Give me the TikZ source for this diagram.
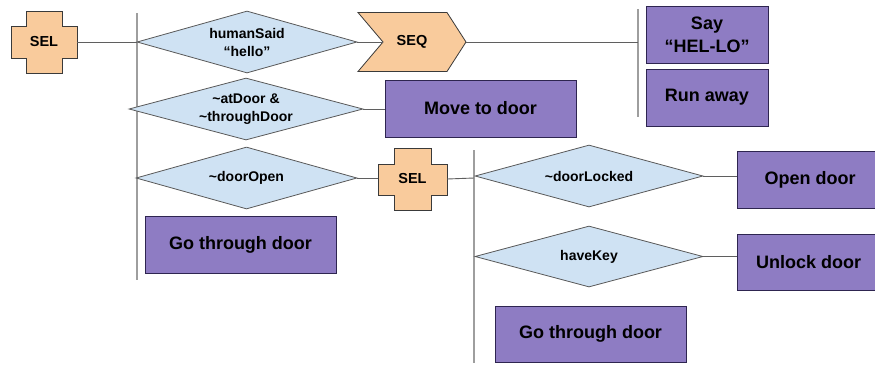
\documentclass[tikz,border=0pt]{standalone}
\usepackage{fontspec}
\setmainfont{Liberation Sans}
\usetikzlibrary{shapes.geometric}
\definecolor{condfill}{HTML}{CFE2F3}
\definecolor{ctlfill}{HTML}{F9CB9C}
\definecolor{actfill}{HTML}{8E7CC3}
\definecolor{edgegray}{HTML}{595959}
\definecolor{boxedge}{HTML}{2E2550}
\definecolor{ctledge}{HTML}{3A3A3A}
\definecolor{conngray}{HTML}{5F5F5F}
\definecolor{busgray}{HTML}{9E9E9E}
\begin{document}
\begin{tikzpicture}[x=1pt,y=-1pt,
  cond/.style={diamond, aspect=3.6, draw=edgegray, fill=condfill, line width=0.8pt, inner sep=0pt,
    font=\fontsize{14}{18}\selectfont\bfseries, align=center},
  act/.style={rectangle, draw=boxedge, fill=actfill, line width=0.8pt, inner sep=0pt,
    font=\fontsize{18}{23}\selectfont\bfseries, align=center},
  ctl/.style={rectangle, inner sep=0pt, font=\fontsize{14.5}{17}\selectfont\bfseries},
  ctlshape/.style={draw=ctledge, fill=ctlfill, line width=0.8pt, line join=miter},
  conn/.style={draw=conngray, line width=0.9pt},
  bus/.style={draw=busgray, line width=1.5pt}]
\clip (0,0) rectangle (875,365);
\fill[white] (0,0) rectangle (875,365);

% control shapes
\path[ctlshape] (26,11) -- (62,11) -- (62,26) -- (77,26) -- (77,58) -- (62,58) -- (62,73)
  -- (26,73) -- (26,58) -- (11,58) -- (11,26) -- (26,26) -- cycle;
\path[ctlshape] (394,148) -- (431,148) -- (431,164) -- (447,164) -- (447,195) -- (431,195)
  -- (431,210) -- (394,210) -- (394,195) -- (378,195) -- (378,164) -- (394,164) -- cycle;
\path[ctlshape] (358,12.5) -- (447,12.5) -- (466,42) -- (447,71.5) -- (358,71.5) -- (383,42) -- cycle;

\node[ctl, minimum width=66, minimum height=62] (sel1) at (44,42) {SEL};
\node[ctl, minimum width=69, minimum height=62] (sel2) at (412.5,179) {SEL};
\node[ctl, minimum width=108, minimum height=59] (seq) at (412,42) {SEQ};
\coordinate (seqin) at (383,42);

% bus coordinates
\coordinate (b1top) at (137,13);
\coordinate (b1bot) at (137,280);
\coordinate (b2top) at (638,9);
\coordinate (b2bot) at (638,117);
\coordinate (b2mid) at (638,42);
\coordinate (b3top) at (474,150);
\coordinate (b3bot) at (474,363);
\coordinate (b3mid) at (474,178);

\draw[bus] (b1top) -- (b1bot);
\draw[bus] (b2top) -- (b2bot);
\draw[bus] (b3top) -- (b3bot);

% conditions
\node[cond, minimum width=220, minimum height=62] (d1) at (247,42) {humanSaid\\“hello”};
\node[cond, minimum width=234, minimum height=62] (d2) at (246,109) {\textasciitilde atDoor \&\\\textasciitilde throughDoor};
\node[cond, minimum width=221, minimum height=62] (d3) at (246.5,178) {\textasciitilde doorOpen};
\node[cond, minimum width=228, minimum height=62] (d4) at (589,176) {\textasciitilde doorLocked};
\node[cond, minimum width=228, minimum height=61] (d5) at (589,256.5) {haveKey};

% actions
\node[act, minimum width=122, minimum height=57] (say) at (707,34.5) {Say\\“HEL-LO”};
\node[act, minimum width=122, minimum height=57] (run) at (707,97.5) {Run away};
\node[act, minimum width=191, minimum height=57] (move) at (480.5,108.5) {Move to door};
\node[act, minimum width=191, minimum height=57] (go1) at (240.5,244.5) {Go through door};
\node[act, minimum width=146, minimum height=57] (open) at (810,179.5) {Open door};
\node[act, minimum width=143, minimum height=56] (unlock) at (808.5,262) {Unlock door};
\node[act, minimum width=191, minimum height=56] (go2) at (590.5,334) {Go through door};

% connectors
\draw[conn] (sel1.east) -- (d1.west);
\draw[conn] (d1.east) -- (seqin);
\draw[conn] (seq.east) -- (b2mid);
\draw[conn] (d2.east) -- (d2.east -| move.west);
\draw[conn] (d3.east) -- (d3.east -| sel2.west);
\draw[conn] (sel2.east) -- (b3mid);
\draw[conn] (d4.east) -- (d4.east -| open.west);
\draw[conn] (d5.east) -- (d5.east -| unlock.west);
\end{tikzpicture}
\end{document}
